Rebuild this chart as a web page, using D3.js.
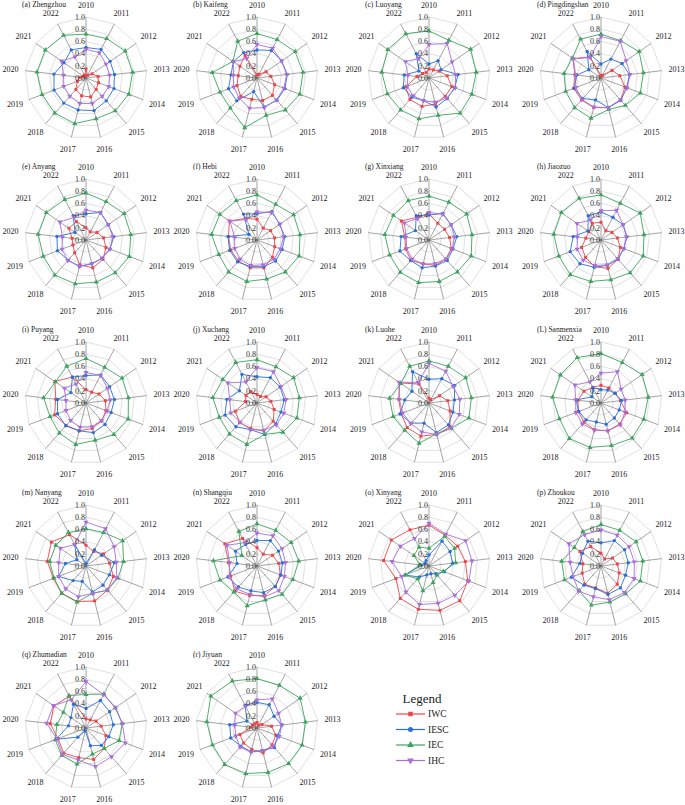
<!DOCTYPE html>
<html>
<head>
<meta charset="utf-8">
<script src="https://cdn.jsdelivr.net/npm/d3@7"></script>
<style>
	body { margin:0; background:#fff; }
	svg { display:block; font-family:"Liberation Serif","Times New Roman",serif; }
</style>
</head>
<body>
<svg id="chart" width="685" height="805"></svg>
<script>
// city panels, in reading order
var cities = ["(a) Zhengzhou","(b) Kaifeng","(c) Luoyang","(d) Pingdingshan",
	"(e) Anyang","(f) Hebi","(g) Xinxiang","(h) Jiaozuo",
	"(i) Puyang","(j) Xuchang","(k) Luohe","(L) Sanmenxia",
	"(m) Nanyang","(n) Shangqiu","(o) Xinyang","(p) Zhoukou",
	"(q) Zhumadian","(r) Jiyuan"];

var years = ["2010","2011","2012","2013","2014","2015","2016","2017","2018","2019","2020","2021","2022"];
var ticks = [0, 0.2, 0.4, 0.6, 0.8, 1.0];
var seriesNames = ["IWC","IESC","IEC","IHC"];

// IWC (red)
var iwc = [
	[0.15,0.05,0.12,0.20,0.22,0.25,0.32,0.30,0.25,0.15,0.10,0.05,0.05],
	[0.05,0.07,0.18,0.23,0.31,0.38,0.38,0.36,0.40,0.35,0.31,0.34,0.42],
	[0.15,0.15,0.20,0.30,0.40,0.40,0.44,0.48,0.47,0.41,0.20,0.13,0.10],
	[0.04,0.05,0.22,0.31,0.42,0.48,0.50,0.50,0.48,0.48,0.43,0.56,0.39],
	[0.20,0.15,0.22,0.29,0.35,0.42,0.47,0.42,0.28,0.23,0.23,0.34,0.34],
	[0.34,0.22,0.27,0.29,0.31,0.38,0.47,0.47,0.46,0.46,0.47,0.55,0.40],
	[0.43,0.31,0.31,0.34,0.39,0.42,0.43,0.40,0.45,0.41,0.40,0.55,0.42],
	[0.29,0.17,0.22,0.27,0.34,0.42,0.48,0.45,0.38,0.34,0.25,0.24,0.31],
	[0.22,0.20,0.26,0.32,0.35,0.39,0.43,0.47,0.49,0.55,0.50,0.62,0.48],
	[0.14,0.12,0.18,0.23,0.30,0.40,0.47,0.43,0.43,0.38,0.19,0.22,0.21],
	[0.08,0.06,0.21,0.31,0.37,0.52,0.53,0.56,0.54,0.49,0.50,0.58,0.35],
	[0.29,0.28,0.28,0.32,0.45,0.46,0.47,0.45,0.42,0.40,0.38,0.34,0.29],
	[0.34,0.27,0.35,0.39,0.48,0.53,0.59,0.60,0.60,0.57,0.64,0.69,0.58],
	[0.30,0.22,0.31,0.36,0.41,0.45,0.50,0.50,0.55,0.46,0.47,0.64,0.51],
	[0.67,0.57,0.57,0.60,0.68,0.76,0.75,0.73,0.71,0.58,0.75,0.75,0.67],
	[0.21,0.13,0.23,0.27,0.32,0.40,0.46,0.37,0.40,0.33,0.30,0.42,0.36],
	[0.15,0.15,0.20,0.25,0.35,0.45,0.53,0.50,0.55,0.49,0.59,0.64,0.59],
	[0.09,0.05,0.10,0.24,0.33,0.37,0.42,0.36,0.33,0.30,0.10,0.09,0.08]
];

// IESC (blue)
var iesc = [
	[0.50,0.53,0.48,0.47,0.49,0.50,0.55,0.54,0.55,0.56,0.53,0.44,0.52],
	[0.46,0.51,0.49,0.50,0.49,0.49,0.49,0.23,0.50,0.50,0.43,0.47,0.47],
	[0.23,0.32,0.24,0.48,0.45,0.45,0.49,0.38,0.42,0.45,0.41,0.20,0.45],
	[0.23,0.35,0.42,0.47,0.45,0.49,0.50,0.37,0.45,0.47,0.40,0.24,0.49],
	[0.43,0.51,0.44,0.46,0.42,0.40,0.40,0.45,0.44,0.50,0.48,0.22,0.45],
	[0.43,0.53,0.45,0.46,0.44,0.46,0.45,0.45,0.48,0.48,0.48,0.16,0.48],
	[0.41,0.49,0.44,0.46,0.42,0.45,0.44,0.47,0.45,0.51,0.46,0.27,0.45],
	[0.46,0.42,0.44,0.43,0.40,0.42,0.43,0.46,0.52,0.54,0.46,0.26,0.45],
	[0.45,0.52,0.47,0.47,0.44,0.47,0.50,0.47,0.50,0.50,0.47,0.30,0.48],
	[0.43,0.47,0.46,0.45,0.42,0.46,0.53,0.45,0.52,0.56,0.50,0.35,0.53],
	[0.39,0.45,0.51,0.42,0.42,0.48,0.50,0.34,0.44,0.51,0.40,0.34,0.58],
	[0.22,0.24,0.28,0.34,0.32,0.33,0.36,0.32,0.37,0.39,0.41,0.18,0.28],
	[0.04,0.30,0.31,0.47,0.41,0.42,0.44,0.26,0.32,0.48,0.34,0.18,0.40],
	[0.42,0.47,0.43,0.42,0.42,0.45,0.45,0.42,0.46,0.51,0.33,0.43,0.40],
	[0.18,0.46,0.42,0.39,0.27,0.17,0.13,0.15,0.24,0.42,0.12,0.08,0.10],
	[0.38,0.47,0.47,0.45,0.43,0.48,0.48,0.38,0.42,0.52,0.35,0.37,0.46],
	[0.32,0.51,0.47,0.45,0.40,0.38,0.30,0.05,0.20,0.52,0.29,0.30,0.44],
	[0.42,0.43,0.34,0.41,0.36,0.43,0.38,0.40,0.40,0.46,0.45,0.20,0.42]
];

// IEC (green)
var iec = [
	[0.72,0.73,0.78,0.77,0.75,0.72,0.69,0.77,0.77,0.77,0.81,0.81,0.79],
	[0.73,0.71,0.76,0.76,0.75,0.70,0.63,0.84,0.66,0.65,0.74,0.48,0.68],
	[0.77,0.70,0.83,0.78,0.75,0.77,0.63,0.69,0.70,0.73,0.78,0.82,0.82],
	[0.72,0.69,0.76,0.70,0.69,0.60,0.53,0.68,0.65,0.62,0.61,0.57,0.72],
	[0.77,0.71,0.76,0.74,0.76,0.72,0.71,0.74,0.77,0.75,0.79,0.79,0.75],
	[0.74,0.66,0.73,0.71,0.74,0.70,0.66,0.70,0.70,0.67,0.75,0.74,0.73],
	[0.72,0.70,0.75,0.71,0.74,0.70,0.70,0.72,0.71,0.69,0.73,0.71,0.73],
	[0.74,0.68,0.78,0.71,0.74,0.72,0.67,0.70,0.76,0.74,0.78,0.79,0.77],
	[0.73,0.66,0.72,0.70,0.74,0.69,0.63,0.70,0.66,0.63,0.70,0.61,0.68],
	[0.71,0.67,0.73,0.70,0.70,0.64,0.53,0.70,0.68,0.66,0.73,0.68,0.75],
	[0.69,0.68,0.73,0.70,0.70,0.55,0.52,0.68,0.60,0.63,0.65,0.56,0.68],
	[0.81,0.75,0.82,0.78,0.75,0.77,0.72,0.75,0.78,0.73,0.80,0.81,0.84],
	[0.61,0.62,0.73,0.62,0.56,0.53,0.46,0.61,0.60,0.56,0.60,0.60,0.62],
	[0.69,0.66,0.68,0.69,0.63,0.62,0.57,0.67,0.57,0.65,0.72,0.30,0.64],
	[0.29,0.55,0.51,0.44,0.25,0.20,0.28,0.42,0.28,0.42,0.15,0.30,0.35],
	[0.68,0.66,0.70,0.69,0.69,0.61,0.61,0.66,0.54,0.64,0.65,0.53,0.64],
	[0.55,0.63,0.58,0.60,0.58,0.45,0.44,0.61,0.60,0.54,0.48,0.45,0.60],
	[0.81,0.79,0.86,0.80,0.79,0.78,0.75,0.77,0.80,0.78,0.83,0.92,0.87]
];

// IHC (purple)
var ihc = [
	[0.47,0.47,0.40,0.39,0.40,0.40,0.43,0.43,0.40,0.39,0.37,0.49,0.39],
	[0.55,0.55,0.49,0.49,0.47,0.48,0.50,0.51,0.44,0.41,0.39,0.47,0.36],
	[0.55,0.64,0.46,0.44,0.46,0.44,0.41,0.38,0.39,0.38,0.35,0.47,0.36],
	[0.68,0.68,0.50,0.48,0.46,0.48,0.50,0.49,0.47,0.44,0.42,0.55,0.38],
	[0.49,0.51,0.45,0.44,0.42,0.40,0.40,0.44,0.45,0.42,0.39,0.52,0.42],
	[0.46,0.51,0.46,0.44,0.41,0.42,0.42,0.43,0.42,0.39,0.37,0.54,0.38],
	[0.45,0.48,0.44,0.42,0.41,0.42,0.40,0.41,0.42,0.39,0.38,0.49,0.40],
	[0.48,0.55,0.44,0.42,0.40,0.41,0.42,0.43,0.44,0.42,0.39,0.48,0.37],
	[0.50,0.51,0.43,0.40,0.37,0.38,0.40,0.41,0.38,0.35,0.33,0.43,0.35],
	[0.58,0.58,0.48,0.48,0.47,0.48,0.46,0.45,0.42,0.46,0.45,0.58,0.39],
	[0.65,0.59,0.48,0.51,0.53,0.55,0.53,0.49,0.45,0.46,0.49,0.60,0.38],
	[0.49,0.58,0.40,0.40,0.42,0.48,0.47,0.46,0.46,0.44,0.42,0.52,0.39],
	[0.72,0.69,0.56,0.50,0.54,0.53,0.46,0.52,0.50,0.48,0.45,0.51,0.40],
	[0.54,0.56,0.50,0.47,0.48,0.54,0.52,0.48,0.50,0.49,0.45,0.60,0.43],
	[0.70,0.59,0.73,0.71,0.70,0.64,0.63,0.65,0.57,0.48,0.61,0.57,0.51],
	[0.59,0.57,0.56,0.55,0.58,0.58,0.57,0.52,0.55,0.49,0.51,0.64,0.58],
	[0.76,0.62,0.59,0.60,0.69,0.63,0.65,0.54,0.58,0.51,0.65,0.65,0.52],
	[0.46,0.54,0.43,0.41,0.39,0.40,0.38,0.41,0.42,0.37,0.37,0.43,0.40]
];

var seriesData = [iwc, iesc, iec, ihc];
var seriesColor = ["#e8474c","#2b6fd6","#3da35d","#a86fd9"];
var seriesSymbol = [d3.symbolSquare, d3.symbolCircle, d3.symbolTriangle, d3.symbolTriangle];
var seriesRotate = [0, 0, 0, 180];

var svg = d3.select("#chart");

// panel grid
var colX = [86, 257, 429, 601];
var rowY = [78, 240, 403, 566, 728];
var R = 61;

var r = d3.scaleLinear().domain([0, 1]).range([0, R]);
var angle = d3.scalePoint().domain(years).range([0, 2 * Math.PI * 12 / 13]);

function px(year, v) { return r(v) * Math.sin(angle(year)); }
function py(year, v) { return -r(v) * Math.cos(angle(year)); }

var line = d3.lineRadial()
	.angle(function(d){ return angle(d.year); })
	.radius(function(d){ return r(d.v); })
	.curve(d3.curveLinearClosed);

cities.forEach(function(city, ci){
	var cx = colX[ci % 4], cy = rowY[Math.floor(ci / 4)];
	var g = svg.append("g").attr("transform", "translate(" + cx + "," + cy + ")");

	//グリッド
	ticks.slice(1).forEach(function(t){
		g.append("path")
			.attr("d", line(years.map(function(y){ return {year:y, v:t}; })))
			.attr("fill", "none")
			.attr("stroke", "#d2d2d2")
			.attr("stroke-width", 0.7);
	});

	//軸
	g.selectAll("line.spoke")
		.data(years)
		.enter()
		.append("line")
		.attr("class", "spoke")
		.attr("x1", 0).attr("y1", 0)
		.attr("x2", function(d){ return px(d, 1); })
		.attr("y2", function(d){ return py(d, 1); })
		.attr("stroke", "#666")
		.attr("stroke-width", 0.6);

	// series
	seriesData.forEach(function(sd, si){
		var pts = years.map(function(y, i){ return {year:y, v:sd[ci][i]}; });
		g.append("path")
			.attr("d", line(pts))
			.attr("fill", "none")
			.attr("stroke", seriesColor[si])
			.attr("stroke-opacity", 0.9)
			.attr("stroke-width", 1);
		g.selectAll("path.m" + si)
			.data(pts)
			.enter()
			.append("path")
			.attr("class", "m" + si)
			.attr("d", d3.symbol().type(seriesSymbol[si]).size(si >= 2 ? 11 : 9))
			.attr("fill", seriesColor[si])
			.attr("transform", function(d){
				return "translate(" + px(d.year, d.v) + "," + py(d.year, d.v) + ") rotate(" + seriesRotate[si] + ")";
			});
	});

	// tick labels
	g.selectAll("text.tick")
		.data(ticks)
		.enter()
		.append("text")
		.attr("class", "tick")
		.attr("x", -1)
		.attr("y", function(d){ return -r(d); })
		.attr("dy", "0.35em")
		.attr("text-anchor", "end")
		.attr("font-size", "8px")
		.attr("fill", "#333")
		.text(function(d){ return d3.format(".1f")(d); });

	// year labels
	g.selectAll("text.year")
		.data(years)
		.enter()
		.append("text")
		.attr("class", "year")
		.attr("x", function(d){ return 76 * Math.sin(angle(d)); })
		.attr("y", function(d){ return -73 * Math.cos(angle(d)); })
		.attr("dy", "0.35em")
		.attr("text-anchor", "middle")
		.attr("font-size", "8px")
		.attr("fill", "#222")
		.text(function(d){ return d; });

	g.append("text")
		.attr("x", -64)
		.attr("y", -71)
		.attr("font-size", "7.5px")
		.attr("fill", "#222")
		.text(city);
});

// legend
var legend = svg.append("g").attr("transform", "translate(396,0)");
legend.append("text")
	.attr("x", 26).attr("y", 703)
	.attr("text-anchor", "middle")
	.attr("font-size", "13px")
	.attr("fill", "#222")
	.text("Legend");

seriesNames.forEach(function(name, si){
	var y = 714 + si * 15.5;
	legend.append("line")
		.attr("x1", 0).attr("x2", 29)
		.attr("y1", y).attr("y2", y)
		.attr("stroke", seriesColor[si])
		.attr("stroke-width", 1.2);
	legend.append("path")
		.attr("d", d3.symbol().type(seriesSymbol[si]).size(20))
		.attr("fill", seriesColor[si])
		.attr("transform", "translate(14.5," + y + ") rotate(" + seriesRotate[si] + ")");
	legend.append("text")
		.attr("x", 32).attr("y", y)
		.attr("dy", "0.35em")
		.attr("font-size", "9.5px")
		.attr("fill", "#222")
		.text(name);
});
</script>
</body>
</html>
